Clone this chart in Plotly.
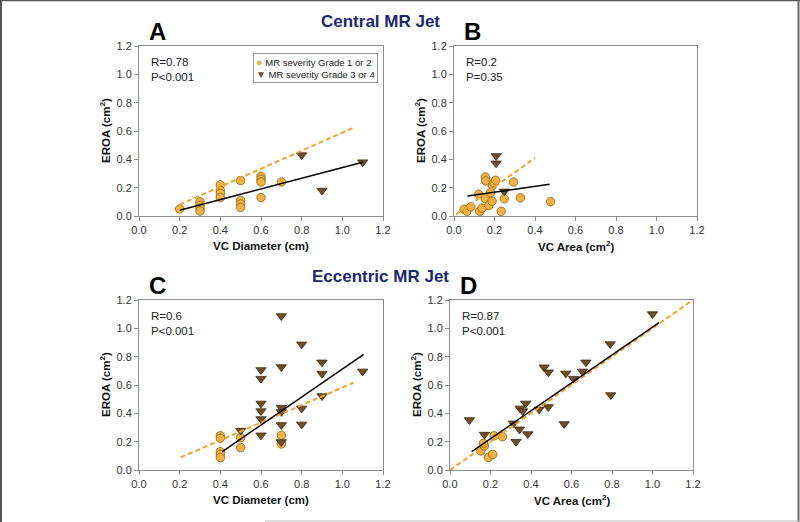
import plotly.graph_objects as go
from plotly.subplots import make_subplots

# ---- data ----
# Panel A: central jet, VC diameter vs EROA
a_g12_x = [0.2, 0.3, 0.3, 0.3, 0.3, 0.4, 0.4, 0.4, 0.4, 0.5, 0.5, 0.5, 0.5,
           0.6, 0.6, 0.6, 0.6, 0.7]
a_g12_y = [0.05, 0.10, 0.075, 0.055, 0.035, 0.22, 0.18, 0.16, 0.13, 0.25, 0.11,
           0.085, 0.06, 0.28, 0.26, 0.24, 0.13, 0.24]
a_g34_x = [0.8, 0.9, 1.1]
a_g34_y = [0.43, 0.18, 0.38]
a_fit_x = [0.2, 1.1]
a_fit_y = [0.04, 0.38]
a_ref_x = [0.2, 1.05]
a_ref_y = [0.08, 0.62]

# Panel B: central jet, VC area vs EROA
b_g12_x = [0.05, 0.064, 0.083, 0.122, 0.127, 0.139, 0.155, 0.157, 0.155, 0.172,
           0.18, 0.188, 0.19, 0.196, 0.206, 0.233, 0.248, 0.294, 0.328, 0.477]
b_g12_y = [0.047, 0.033, 0.064, 0.153, 0.033, 0.056, 0.275, 0.247, 0.122, 0.075,
           0.165, 0.104, 0.216, 0.233, 0.252, 0.033, 0.122, 0.24, 0.129, 0.101]
b_g34_x = [0.208, 0.208, 0.249]
b_g34_y = [0.424, 0.372, 0.174]
b_fit_x = [0.066, 0.472]
b_fit_y = [0.141, 0.224]
b_ref_x = [0.01, 0.40]
b_ref_y = [0.01, 0.41]

# Panel C: eccentric jet, VC diameter vs EROA
c_g12_x = [0.4, 0.4, 0.4, 0.4, 0.4, 0.5, 0.5, 0.7, 0.7]
c_g12_y = [0.242, 0.224, 0.129, 0.11, 0.087, 0.228, 0.158, 0.245, 0.184]
c_g34_x = [0.5, 0.6, 0.6, 0.6, 0.6, 0.6, 0.6, 0.7, 0.7, 0.7, 0.7, 0.7, 0.7,
           0.8, 0.8, 0.8, 0.9, 0.9, 0.9, 1.1]
c_g34_y = [0.278, 0.706, 0.645, 0.47, 0.416, 0.36, 0.245, 1.087, 0.727, 0.44,
           0.41, 0.318, 0.198, 0.887, 0.435, 0.322, 0.76, 0.68, 0.522, 0.696]
c_fit_x = [0.41, 1.105]
c_fit_y = [0.13, 0.816]
c_ref_x = [0.205, 1.055]
c_ref_y = [0.089, 0.616]

# Panel D: eccentric jet, VC area vs EROA
d_g12_x = [0.152, 0.17, 0.165, 0.19, 0.211, 0.218, 0.259]
d_g12_y = [0.134, 0.17, 0.188, 0.089, 0.11, 0.242, 0.235]
d_g34_x = [0.096, 0.17, 0.313, 0.326, 0.346, 0.343, 0.359, 0.374, 0.384, 0.44,
           0.465, 0.486, 0.485, 0.564, 0.572, 0.61, 0.654, 0.671, 0.791, 0.794, 1.0]
d_g34_y = [0.353, 0.25, 0.329, 0.2, 0.435, 0.287, 0.416, 0.47, 0.254, 0.428,
           0.725, 0.69, 0.445, 0.325, 0.682, 0.645, 0.696, 0.76, 0.889, 0.529, 1.101]
d_fit_x = [0.107, 1.032]
d_fit_y = [0.129, 1.04]
d_ref_x = [0.0, 1.2]
d_ref_y = [0.0, 1.2]

stats = {"A": ("R=0.78", "P<0.001"), "B": ("R=0.2", "P=0.35"),
         "C": ("R=0.6", "P<0.001"), "D": ("R=0.87", "P<0.001")}

W, H = 800, 522
FONT = "Arial, Liberation Sans, sans-serif"
ORANGE = "#F3B23F"
BROWN = "#6E4F26"
NAVY = "#1C2673"


def px(x):
    return x / W


def py(y):
    return 1 - y / H


def label(x, y, text, size, color="#111", **kw):
    # paper-anchored text, placed by pixel position of its centre
    d = dict(x=px(x), y=py(y), xref="paper", yref="paper", text=text,
             showarrow=False, xanchor="center", yanchor="middle",
             font=dict(family=FONT, size=size, color=color))
    d.update(kw)
    return d


fig = make_subplots(rows=2, cols=2)

panels = [
    ("A", 1, 1, a_g12_x, a_g12_y, a_g34_x, a_g34_y, a_fit_x, a_fit_y, a_ref_x, a_ref_y),
    ("B", 1, 2, b_g12_x, b_g12_y, b_g34_x, b_g34_y, b_fit_x, b_fit_y, b_ref_x, b_ref_y),
    ("C", 2, 1, c_g12_x, c_g12_y, c_g34_x, c_g34_y, c_fit_x, c_fit_y, c_ref_x, c_ref_y),
    ("D", 2, 2, d_g12_x, d_g12_y, d_g34_x, d_g34_y, d_fit_x, d_fit_y, d_ref_x, d_ref_y),
]

for name, r, c, gx, gy, tx, ty, fx, fy, rx, ry in panels:
    fig.add_trace(go.Scatter(
        x=gx, y=gy, mode="markers", name="MR severity Grade 1 or 2",
        marker=dict(symbol="circle", size=8.5, color=ORANGE,
                    line=dict(color="#8A6414", width=0.8)),
        showlegend=False), row=r, col=c)
    fig.add_trace(go.Scatter(
        x=tx, y=ty, mode="markers", name="MR severity Grade 3 or 4",
        marker=dict(symbol="triangle-down", size=9, color=BROWN,
                    line=dict(color="#3B2810", width=0.8)),
        showlegend=False), row=r, col=c)
    fig.add_trace(go.Scatter(
        x=rx, y=ry, mode="lines", line=dict(color="#F0A22C", width=2, dash="5px,3px"),
        showlegend=False, hoverinfo="skip"), row=r, col=c)
    fig.add_trace(go.Scatter(
        x=fx, y=fy, mode="lines", line=dict(color="black", width=1.5),
        showlegend=False, hoverinfo="skip"), row=r, col=c)

# panel boxes in pixels: (left, right, top, bottom)
boxes = {
    "A": (139, 383, 46, 216),
    "B": (454, 697, 46, 216),
    "C": (139, 383, 300, 470),
    "D": (450, 693, 300, 470),
}
axis_ids = {"A": ("xaxis", "yaxis"), "B": ("xaxis2", "yaxis2"),
            "C": ("xaxis3", "yaxis3"), "D": ("xaxis4", "yaxis4")}
xtitles = {"A": "VC Diameter (cm)", "B": "VC Area (cm<sup>2</sup>)",
           "C": "VC Diameter (cm)", "D": "VC Area (cm<sup>2</sup>)"}

axis_style = dict(range=[0, 1.2], dtick=0.2, tick0=0, tickformat=".1f",
                  showgrid=False, zeroline=False, showline=True, mirror=True,
                  linecolor="#8c8c8c", linewidth=1, ticks="outside", ticklen=4,
                  tickcolor="#8c8c8c", tickfont=dict(family=FONT, size=11, color="#333"),
                  automargin=False, fixedrange=True)

annotations = []
for name, (l, rgt, t, b) in boxes.items():
    xa, ya = axis_ids[name]
    fig.update_layout({
        xa: dict(domain=[px(l), px(rgt)], **axis_style),
        ya: dict(domain=[py(b), py(t)], **axis_style),
    })
    annotations.append(label((l + rgt) / 2, b + 30, "<b>%s</b>" % xtitles[name], 11.5))
    annotations.append(label(l - 34, (t + b) / 2, "<b>EROA (cm<sup>2</sup>)</b>", 11.5,
                             textangle=-90))
    rtxt, ptxt = stats[name]
    annotations.append(label(l + 10, t + 23, "%s<br>%s" % (rtxt, ptxt), 11.5, "#222",
                             xanchor="left", align="left"))
    annotations.append(label(l + 18, t - 15, "<b>%s</b>" % name, 24, "black"))

annotations.append(label(380, 21, "<b>Central MR Jet</b>", 17, NAVY))
annotations.append(label(380, 276.5, "<b>Eccentric MR Jet</b>", 17, NAVY))

# legend box in panel A
annotations.append(label(
    378, 53,
    ("<span style='color:%s;font-size:11px'>●</span> MR severity Grade 1 or 2<br>"
     "<span style='color:%s;font-size:10px'>▼</span> MR severity Grade 3 or 4") % (ORANGE, BROWN),
    9.5, "#222", xanchor="right", yanchor="top", align="left",
    bordercolor="#999", borderwidth=1, borderpad=2, bgcolor="white"))

fig.update_layout(
    width=W, height=H,
    margin=dict(l=0, r=0, t=0, b=0),
    paper_bgcolor="white", plot_bgcolor="white",
    showlegend=False,
    annotations=annotations,
    shapes=[
        dict(type="line", xref="paper", yref="paper", x0=px(1), x1=px(1), y0=0, y1=1,
             line=dict(color="#555", width=2)),
        dict(type="line", xref="paper", yref="paper", x0=0, x1=1, y0=py(0.5), y1=py(0.5),
             line=dict(color="#555", width=1.5)),
        dict(type="line", xref="paper", yref="paper", x0=px(798.5), x1=px(798.5), y0=0, y1=1,
             line=dict(color="#666", width=2)),
        dict(type="line", xref="paper", yref="paper", x0=px(265), x1=1, y0=py(521), y1=py(521),
             line=dict(color="#bbb", width=1)),
    ],
)

fig.write_html("out.html", config={"displayModeBar": False},
               post_script="document.body.style.margin='0';document.body.style.overflow='hidden';")
